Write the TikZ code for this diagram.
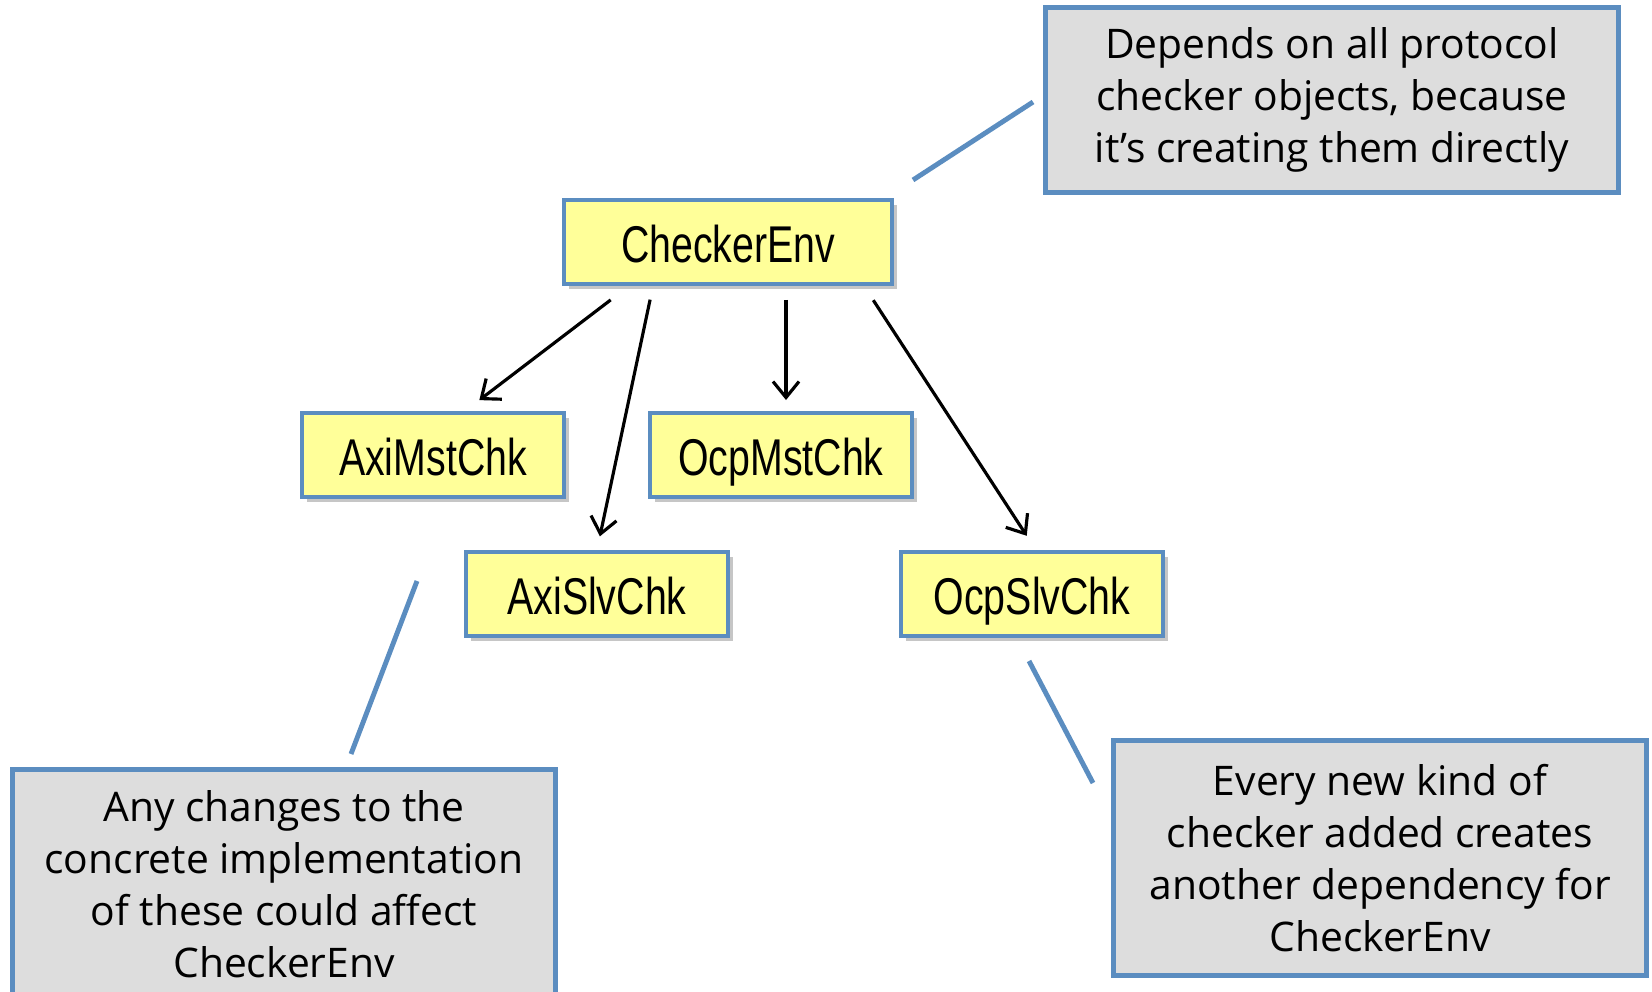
\documentclass[tikz,border=0pt]{standalone}
\usepackage{fontspec}
\setmainfont{Open Sans}
\newfontfamily\clsfont[FakeStretch=0.76]{Liberation Sans}
\usepackage{tikz}
\usetikzlibrary{arrows.meta, shadows, calc}
\definecolor{clsfill}{HTML}{FFFF99}
\definecolor{notefill}{HTML}{DDDDDD}
\definecolor{edgeblue}{HTML}{5B8DC0}

\begin{document}
\begin{tikzpicture}[
  x=0.01cm, y=-0.01cm,
  cls/.style={draw=edgeblue, line width=1.1pt, fill=clsfill, minimum width=2.62cm, minimum height=0.84cm, inner sep=0pt, text height=12pt, text depth=0.3pt, font=\clsfont\fontsize{14.7}{17}\selectfont, drop shadow={shadow xshift=0.05cm, shadow yshift=-0.05cm, opacity=0.45}},
  note/.style={draw=edgeblue, line width=1.4pt, fill=notefill, align=center, inner sep=0pt, font=\fontsize{11.6}{14.8}\selectfont},
  arr/.style={-{Straight Barb[length=1.6mm, width=2.6mm]}, line width=0.9pt},
  callout/.style={draw=edgeblue, line width=1.4pt}
]
  \useasboundingbox (0,0) rectangle (1652,992);

  % classes
  \node[cls, minimum width=3.28cm] (ce) at (728,242) {CheckerEnv};
  \node[cls] (am) at (433,455) {AxiMstChk};
  \node[cls] (om) at (781,455) {OcpMstChk};
  \node[cls] (as) at (597,594) {AxiSlvChk};
  \node[cls] (os) at (1032,594) {OcpSlvChk};

  \draw[arr, shorten <=0.23cm, shorten >=0.18cm] ($(ce.south)+(-99,0)$) -- ($(am.north)+(32,0)$);
  \draw[arr, shorten <=0.14cm, shorten >=0.14cm] ($(ce.south)+(-75,0)$) -- (as.north);
  \draw[arr, shorten <=0.14cm, shorten >=0.11cm] ($(ce.south)+(58,0)$) -- ($(om.north)+(5,0)$);
  \draw[arr, shorten <=0.17cm, shorten >=0.17cm] ($(ce.south)+(136,0)$) -- ($(os.north)+(4,0)$);

  % notes
  \node[note, minimum width=5.72cm, minimum height=1.85cm] (n1) at (1332,100)
    {Depends on all protocol\\checker objects, because\\it's creating them directly};
  \node[note, minimum width=5.42cm, minimum height=2.28cm] (n2) at (284,884)
    {Any changes to the\\concrete implementation\\of these could affect\\CheckerEnv};
  \node[note, minimum width=5.33cm, minimum height=2.34cm] (n3) at (1380,858)
    {Every new kind of\\checker added creates\\another dependency for\\CheckerEnv};

  \coordinate (c1a) at (913,180);
  \coordinate (c1b) at (1033,102);
  \coordinate (c2a) at (417,581);
  \coordinate (c2b) at (351,754);
  \coordinate (c3a) at (1029,661);
  \coordinate (c3b) at (1093,783);
  \draw[callout] (c1a) -- (c1b);
  \draw[callout] (c2a) -- (c2b);
  \draw[callout] (c3a) -- (c3b);
\end{tikzpicture}
\end{document}
